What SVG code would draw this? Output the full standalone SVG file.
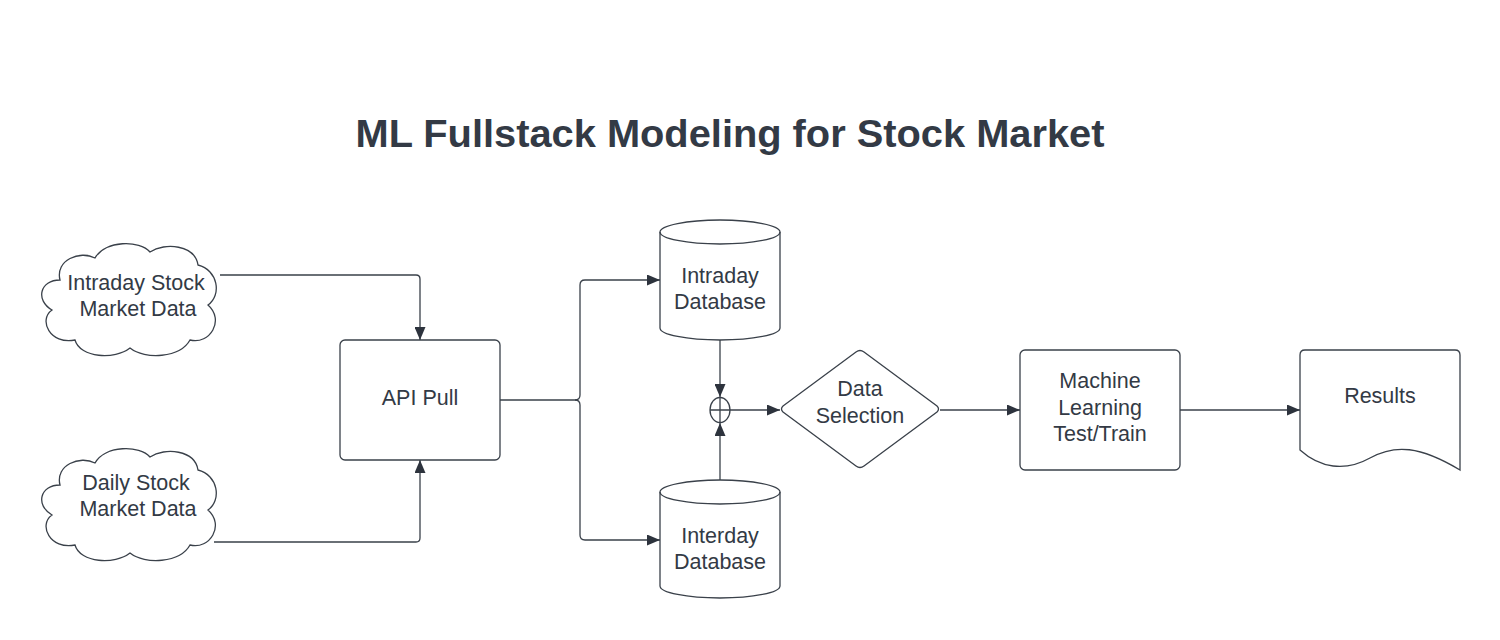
<svg xmlns="http://www.w3.org/2000/svg" width="1500" height="640" viewBox="0 0 1500 640">
<style>
.shape{fill:#ffffff;stroke:#3a414a;stroke-width:1.3;}
.conn{fill:none;stroke:#3a414a;stroke-width:1.3;}
.lbl{font-family:"Liberation Sans",Arial,sans-serif;font-size:21.5px;fill:#333a45;text-anchor:middle;}
.title{font-family:"Liberation Sans",Arial,sans-serif;font-size:38px;font-weight:bold;fill:#333a45;text-anchor:middle;}
</style>
<defs>
<marker id="ah" viewBox="0 0 13 11" refX="13" refY="5.5" markerWidth="13" markerHeight="11" markerUnits="userSpaceOnUse" orient="auto">
<path d="M0,0 L13,5.5 L0,11 Z" fill="#2d333d"/>
</marker>
<path id="cloud" d="M20,40 C15,20 40,10 55,18 C65,0 100,0 110,12 C125,2 155,5 158,25 C178,30 182,55 168,65 C185,80 170,105 150,100 C140,118 105,120 90,108 C75,120 40,118 35,100 C10,105 -2,80 12,70 C-5,60 0,40 20,40 Z"/>
</defs>
<rect width="1500" height="640" fill="#ffffff"/>
<text class="title" x="730" y="147" textLength="749" lengthAdjust="spacingAndGlyphs">ML Fullstack Modeling for Stock Market</text>

<g id="connectors">
<path class="conn" d="M220,275 H416 Q420,275 420,279 V340" marker-end="url(#ah)"/>
<path class="conn" d="M214,542 H416 Q420,542 420,538 V460" marker-end="url(#ah)"/>
<path class="conn" d="M500,400 H575 Q580,400 580,395 V285 Q580,280 585,280 H660" marker-end="url(#ah)"/>
<path class="conn" d="M575,400 Q580,400 580,405 V535 Q580,540 585,540 H660" marker-end="url(#ah)"/>
<path class="conn" d="M720,340 V397" marker-end="url(#ah)"/>
<path class="conn" d="M720,480 V423" marker-end="url(#ah)"/>
<path class="conn" d="M730,410 H780" marker-end="url(#ah)"/>
<path class="conn" d="M940,410 H1020" marker-end="url(#ah)"/>
<path class="conn" d="M1180,410 H1300" marker-end="url(#ah)"/>
</g>

<g id="intraday-cloud">
<use href="#cloud" class="shape" transform="translate(40,240)"/>
<text class="lbl" x="136" y="290">Intraday Stock</text>
<text class="lbl" x="138" y="316">Market Data</text>
</g>

<g id="daily-cloud">
<use href="#cloud" class="shape" transform="translate(40,445)"/>
<text class="lbl" x="136" y="490">Daily Stock</text>
<text class="lbl" x="138" y="516">Market Data</text>
</g>

<g id="api-pull">
<rect class="shape" x="340" y="340" width="160" height="120" rx="5"/>
<text class="lbl" x="420" y="405">API Pull</text>
</g>

<g id="intraday-db">
<path class="shape" d="M660,232 A60,12 0 0 1 780,232 V328 A60,12 0 0 1 660,328 Z"/>
<path class="conn" d="M660,232 A60,12 0 0 0 780,232"/>
<text class="lbl" x="720" y="283">Intraday</text>
<text class="lbl" x="720" y="309">Database</text>
</g>

<g id="interday-db">
<path class="shape" d="M660,492 A60,12 0 0 1 780,492 V586 A60,12 0 0 1 660,586 Z"/>
<path class="conn" d="M660,492 A60,12 0 0 0 780,492"/>
<text class="lbl" x="720" y="543">Interday</text>
<text class="lbl" x="720" y="569">Database</text>
</g>

<g id="junction">
<ellipse class="shape" cx="720" cy="410" rx="10" ry="12.5"/>
<path class="conn" d="M710,410 H730 M720,397.5 V422.5"/>
</g>

<g id="data-selection">
<path class="shape" d="M783,406 L856,352 Q860,349 864,352 L937,406 Q940,409 937,412 L864,466 Q860,469 856,466 L783,412 Q780,409 783,406 Z"/>
<text class="lbl" x="860" y="396">Data</text>
<text class="lbl" x="860" y="423">Selection</text>
</g>

<g id="ml">
<rect class="shape" x="1020" y="350" width="160" height="120" rx="5"/>
<text class="lbl" x="1100" y="388">Machine</text>
<text class="lbl" x="1100" y="415">Learning</text>
<text class="lbl" x="1100" y="441">Test/Train</text>
</g>

<g id="results">
<path class="shape" d="M1300,450 V355 Q1300,350 1305,350 H1455 Q1460,350 1460,355 V470 C1420,446 1395,444 1370,458 C1345,472 1320,468 1300,450 Z"/>
<text class="lbl" x="1380" y="403">Results</text>
</g>
</svg>
